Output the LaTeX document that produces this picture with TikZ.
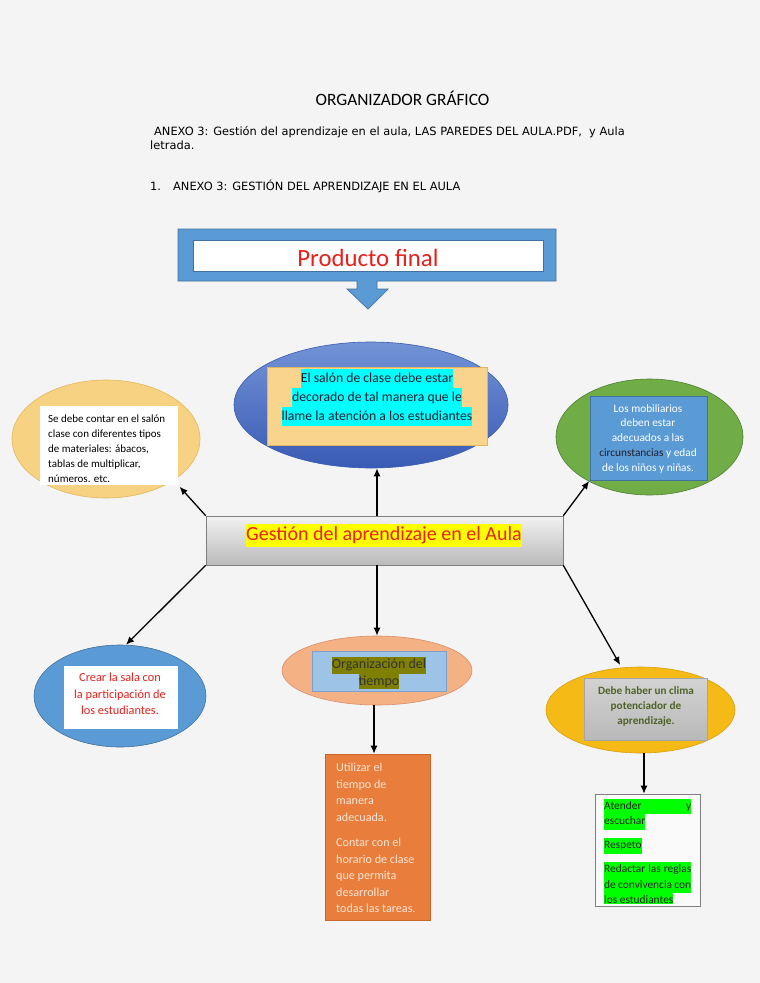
\documentclass[tikz,border=0pt]{standalone}
\usepackage{fontspec}
\setmainfont{Carlito}
\newfontfamily\verdana{DejaVu Sans}
\usetikzlibrary{shapes.geometric,positioning,arrows.meta}

\definecolor{fondo}{HTML}{F4F4F4}
\definecolor{azul}{HTML}{5B9BD5}
\definecolor{azulborde}{HTML}{41719C}
\definecolor{rojo}{HTML}{E8201C}
\definecolor{salonarriba}{HTML}{7393D6}
\definecolor{salonabajo}{HTML}{3A5BB4}
\definecolor{salonfondo}{HTML}{F8D48C}
\definecolor{salonborde}{HTML}{E0B560}
\definecolor{cian}{HTML}{00FFFF}
\definecolor{amarilloclaro}{HTML}{F7D283}
\definecolor{amarilloborde}{HTML}{E3B75C}
\definecolor{verde}{HTML}{70AD47}
\definecolor{verdeborde}{HTML}{507E32}
\definecolor{oscuro}{HTML}{1F1F2F}
\definecolor{grisclaro}{HTML}{F2F2F2}
\definecolor{grisoscuro}{HTML}{BABABA}
\definecolor{grisborde}{HTML}{7F7F7F}
\definecolor{amarillo}{HTML}{FFFF00}
\definecolor{salmon}{HTML}{F4B183}
\definecolor{salmonborde}{HTML}{D98E6B}
\definecolor{celeste}{HTML}{9DC3E6}
\definecolor{celesteborde}{HTML}{7F9FCF}
\definecolor{oliva}{HTML}{808000}
\definecolor{naranja}{HTML}{E97D3B}
\definecolor{naranjaborde}{HTML}{C9672A}
\definecolor{naranjatexto}{HTML}{FBE5D6}
\definecolor{dorado}{HTML}{F5BA15}
\definecolor{doradoborde}{HTML}{D9A010}
\definecolor{verdeoscuro}{HTML}{4F6228}
\definecolor{verdeluz}{HTML}{00FF00}

\newcommand{\resalta}[2]{{\setlength{\fboxsep}{0pt}\colorbox{#1}{\strut#2}}}

\tikzset{
  elipse/.style={ellipse,inner sep=0pt,line width=0.6pt},
  caja/.style={rectangle,inner sep=0pt,line width=0.6pt},
  texto/.style={inner sep=0pt,align=center},
  flecha/.style={-{Latex[length=8pt,width=7pt]},line width=1.3pt}
}

\begin{document}
\begin{tikzpicture}[x=1pt,y=-1pt]
\fill[fondo] (0,0) rectangle (760,983);
\useasboundingbox (0,0) rectangle (760,983);

\node[inner sep=0pt,anchor=base] (titulo) at (402.5,105) {\fontsize{17.3}{20}\selectfont ORGANIZADOR GRÁFICO};
\node[inner sep=0pt,anchor=base west] (anexo) at (154,135) {\verdana\fontsize{11.4}{14}\selectfont ANEXO 3: Gestión del aprendizaje en el aula, LAS PAREDES DEL AULA.PDF,\ \ y Aula};
\node[inner sep=0pt,anchor=base west] (letrada) at (150,149) {\verdana\fontsize{11.4}{14}\selectfont letrada.};
\node[inner sep=0pt,anchor=base west] (num) at (150,190) {\verdana\fontsize{11.4}{14}\selectfont 1.};
\node[inner sep=0pt,anchor=base west] (anexotitulo) at (173,190) {\verdana\fontsize{11.4}{14}\selectfont ANEXO 3: GESTIÓN DEL APRENDIZAJE EN EL AULA};

\filldraw[fill=azul,draw=azulborde,line width=0.7pt] (178,229) -- (556,229) -- (556,281) -- (377,281) -- (377,289) -- (388,289) -- (368,309) -- (347,289) -- (357,289) -- (357,281) -- (178,281) -- cycle;
\node[caja,fill=white,draw=azulborde,minimum width=350,minimum height=31] (producto) at (368,255.5) {};
\node[inner sep=0pt,anchor=base] (productoTxt) at (368,266.5) {\fontsize{24.8}{28}\selectfont\textcolor{rojo}{Producto final}};

\node[elipse,top color=salonarriba,bottom color=salonabajo,draw=salonabajo,minimum width=274,minimum height=126] (salon) at (371,405) {};
\node[caja,fill=salonfondo,draw=salonborde,minimum width=220,minimum height=78] (salonCaja) at (377,406) {};
\node[texto,anchor=north,font=\fontsize{13.7}{19}\selectfont,text=oscuro] (salonTxt) at (377,368.5) {\resalta{cian}{El salón de clase debe estar}\\\resalta{cian}{decorado de tal manera que le}\\\resalta{cian}{llame la atención a los estudiantes}};

\node[elipse,fill=amarilloclaro,draw=amarilloborde,minimum width=188,minimum height=118] (materiales) at (106,439) {};
\node[caja,fill=white,minimum width=138,minimum height=79] (materialesCaja) at (109,445.5) {};
\node[texto,align=left,anchor=north west,font=\fontsize{11}{15}\selectfont] (materialesTxt) at (48,411.5) {\strut Se debe contar en el salón\\\strut clase con diferentes tipos\\\strut de materiales: ábacos,\\\strut tablas de multiplicar,\\\strut números. etc.};

\node[elipse,fill=verde,draw=verdeborde,minimum width=187,minimum height=116] (mobiliario) at (649.5,437) {};
\node[caja,fill=azul,draw=azulborde,minimum width=117,minimum height=84] (mobiliarioCaja) at (648.5,438) {};
\node[texto,anchor=north,font=\fontsize{11.3}{14.8}\selectfont,text=white] (mobiliarioTxt) at (648,401.6) {\strut Los mobiliarios\\\strut deben estar\\\strut adecuados a las\\\strut\textcolor{oscuro}{circunstancias} y edad\\\strut de los niños y niñas.};

\node[caja,top color=grisclaro,bottom color=grisoscuro,draw=grisborde,minimum width=357,minimum height=49] (centro) at (384.5,540.5) {};
\node[inner sep=0pt,anchor=base,font=\fontsize{20}{23}\selectfont] (centroTxt) at (384,540) {\resalta{amarillo}{\textcolor{rojo}{Gestión del aprendizaje en el Aula}}};

\node[elipse,fill=azul,draw=azulborde,minimum width=172,minimum height=102] (crear) at (120,696) {};
\node[caja,fill=white,minimum width=114,minimum height=63] (crearCaja) at (121,697.5) {};
\node[texto,anchor=north,font=\fontsize{12.3}{16.4}\selectfont,text=rojo] (crearTxt) at (120,670) {\strut Crear la sala con\\\strut la participación de\\\strut los estudiantes.};

\node[elipse,fill=salmon,draw=salmonborde,minimum width=190,minimum height=69] (tiempo) at (377,670.5) {};
\node[caja,fill=celeste,draw=celesteborde,minimum width=134,minimum height=40] (tiempoCaja) at (379,671) {};
\begin{scope}
\clip ([yshift=2.5pt]tiempoCaja.south west) rectangle (tiempoCaja.north east);
\node[texto,anchor=north,font=\fontsize{14}{17}\selectfont,text=black!80] (tiempoTxt) at (379,656.5) {\resalta{oliva}{Organización del}\\\resalta{oliva}{tiempo}};
\end{scope}

\node[caja,fill=naranja,draw=naranjaborde,minimum width=105,minimum height=166] (tareas) at (378,837) {};
\node[texto,align=left,anchor=north west,font=\fontsize{12.1}{16.6}\selectfont,text=naranjatexto] (tareasTxt) at (336,759.7) {\strut Utilizar el\\\strut tiempo de\\\strut manera\\\strut adecuada.\\[8.5pt]\strut Contar con el\\\strut horario de clase\\\strut que permita\\\strut desarrollar\\\strut todas las tareas.};

\node[elipse,fill=dorado,draw=doradoborde,minimum width=189,minimum height=86] (clima) at (640.5,710) {};
\node[caja,top color=gray!35,bottom color=gray!55,draw=gray!70,minimum width=123,minimum height=62] (climaCaja) at (645.5,709) {};
\node[texto,anchor=north,font=\fontsize{11.2}{15}\selectfont\bfseries,text=verdeoscuro] (climaTxt) at (646,683.5) {\strut Debe haber un clima\\\strut potenciador de\\\strut aprendizaje.};

\node[caja,fill=fondo!50!white,draw=grisborde,minimum width=105,minimum height=112] (normas) at (647.5,850) {};
\begin{scope}
\clip (596,795) rectangle (699,903);
\node[texto,align=left,anchor=north west,font=\fontsize{11.4}{15.5}\selectfont,text=black!85] (normasTxt) at (604,798.3) {\resalta{verdeluz}{\makebox[87pt][s]{Atender\hfill y}}\\\resalta{verdeluz}{escuchar}\\[8.5pt]\resalta{verdeluz}{Respeto}\\[8.5pt]\resalta{verdeluz}{\makebox[87pt][s]{Redactar las reglas}}\\\resalta{verdeluz}{\makebox[87pt][s]{de convivencia con}}\\\resalta{verdeluz}{los estudiantes}};
\end{scope}

\draw[flecha,shorten >=2pt] (centro.north west) -- (materialesCaja.south east);
\draw[flecha] (tiempo.north |- centro.north) -- (tiempo.north |- salon.south);
\draw[flecha,shorten >=1pt] (centro.north east) -- (mobiliarioCaja.south west);
\draw[flecha] (centro.south west) -- ([xshift=6pt]crear.north);
\draw[flecha] (tiempo.north |- centro.south) -- (tiempo.north);
\draw[flecha,shorten >=3pt] (centro.south east) -- (clima.114);
\draw[flecha] ([xshift=-3pt]tiempo.south) -- ([xshift=-3pt]tiempo.south |- tareas.north);
\draw[flecha] ([xshift=3.5pt]clima.south) -- ([xshift=3.5pt]clima.south |- normas.north);
\end{tikzpicture}
\end{document}
